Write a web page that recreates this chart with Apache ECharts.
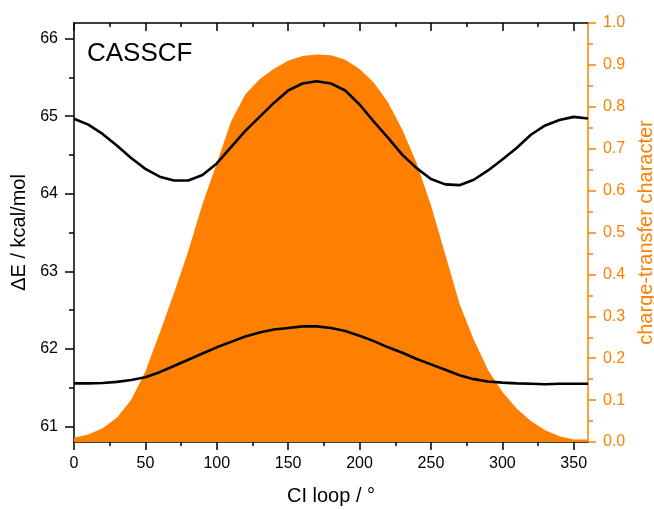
<!DOCTYPE html>
<html><head><meta charset="utf-8">
<script src="https://cdn.jsdelivr.net/npm/echarts@6/dist/echarts.min.js"></script>
<style>html,body{margin:0;padding:0;background:#fff}#c{width:654px;height:510px}</style>
</head><body><div id="c"></div>
<script>
const angles = [0,10,20,30,40,50,60,70,80,90,100,110,120,130,140,150,160,170,180,190,200,210,220,230,240,250,260,270,280,290,300,310,320,330,340,350,360];
const upperE = [64.965,64.89,64.77,64.62,64.46,64.32,64.22,64.17,64.17,64.24,64.39,64.6,64.81,64.99,65.17,65.33,65.42,65.45,65.42,65.33,65.15,64.93,64.72,64.5,64.33,64.19,64.12,64.11,64.18,64.3,64.44,64.59,64.76,64.88,64.95,64.99,64.97];
const lowerE = [61.555,61.555,61.56,61.575,61.6,61.635,61.7,61.78,61.86,61.94,62.02,62.09,62.16,62.21,62.25,62.27,62.29,62.29,62.27,62.23,62.17,62.1,62.02,61.95,61.87,61.8,61.73,61.66,61.61,61.58,61.565,61.555,61.55,61.545,61.55,61.55,61.55];
const ctChar = [0.01,0.018,0.033,0.058,0.1,0.168,0.26,0.355,0.455,0.568,0.665,0.765,0.83,0.866,0.891,0.91,0.921,0.925,0.923,0.912,0.89,0.858,0.81,0.745,0.665,0.565,0.448,0.33,0.244,0.172,0.12,0.08,0.05,0.028,0.014,0.006,0.006];
const xMajorTicks = [0,50,100,150,200,250,300,350];
const xMinorTicks = [25,75,125,175,225,275,325];
const leftMajorTicks = [61,62,63,64,65,66];
const leftMinorTicks = [61.5,62.5,63.5,64.5,65.5];
const titleText = 'CASSCF';

const FONT = '"Liberation Sans", Arial, sans-serif';
const ORANGE = '#FF8000';
const BLACK = '#000';
const chart = echarts.init(document.getElementById('c'), null, {renderer: 'canvas'});
const pair = (xs, ys) => xs.map((x, i) => [x, ys[i]]);

const baseX = {type: 'value', min: 0, max: 360, splitLine: {show: false}};
const option = {
  animation: false,
  backgroundColor: '#fff',
  grid: {left: 74, right: 66, top: 23, bottom: 68, outerBoundsMode: 'none', containLabel: false},
  xAxis: [
    Object.assign({}, baseX, {
      position: 'bottom',
      axisLine: {onZero: false, lineStyle: {color: BLACK, width: 1.5}},
      axisTick: {customValues: xMajorTicks, length: 8, lineStyle: {color: BLACK, width: 1.5}},
      axisLabel: {customValues: xMajorTicks, margin: 14, fontSize: 16, color: BLACK, fontFamily: FONT},
      name: 'CI loop / °', nameLocation: 'middle', nameGap: 44,
      nameTextStyle: {fontSize: 20, color: BLACK, fontFamily: FONT}
    }),
    Object.assign({}, baseX, {
      position: 'bottom',
      axisLine: {show: false, onZero: false},
      axisTick: {customValues: xMinorTicks, length: 4, lineStyle: {color: BLACK, width: 1.5}},
      axisLabel: {show: false}
    }),
    Object.assign({}, baseX, {
      position: 'top',
      axisLine: {onZero: false, lineStyle: {color: BLACK, width: 1.5}},
      axisTick: {inside: true, customValues: xMajorTicks, length: 8, lineStyle: {color: BLACK, width: 1.5}},
      axisLabel: {show: false}
    }),
    Object.assign({}, baseX, {
      position: 'top',
      axisLine: {show: false, onZero: false},
      axisTick: {inside: true, customValues: xMinorTicks, length: 4, lineStyle: {color: BLACK, width: 1.5}},
      axisLabel: {show: false}
    })
  ],
  yAxis: [
    {
      type: 'value', position: 'left', min: 60.8, max: 66.2,
      splitLine: {show: false},
      axisLine: {show: true, onZero: false, lineStyle: {color: BLACK, width: 1.5}},
      axisTick: {customValues: leftMajorTicks, length: 9, lineStyle: {color: BLACK, width: 1.5}},
      axisLabel: {customValues: leftMajorTicks, margin: 16, fontSize: 16, color: BLACK, fontFamily: FONT},
      name: 'ΔE / kcal/mol', nameLocation: 'middle', nameGap: 44,
      nameTextStyle: {fontSize: 20, color: BLACK, fontFamily: FONT}
    },
    {
      type: 'value', position: 'left', min: 60.8, max: 66.2,
      splitLine: {show: false},
      axisLine: {show: false, onZero: false},
      axisTick: {customValues: leftMinorTicks, length: 5, lineStyle: {color: BLACK, width: 1.5}},
      axisLabel: {show: false}
    },
    {
      type: 'value', position: 'right', min: 0, max: 1, interval: 0.1,
      splitLine: {show: false},
      axisLine: {show: true, onZero: false, lineStyle: {color: ORANGE, width: 1.5}},
      axisTick: {length: 8, lineStyle: {color: ORANGE, width: 1.5}},
      minorTick: {show: true, splitNumber: 2, length: 5, lineStyle: {color: ORANGE, width: 1.5}},
      axisLabel: {margin: 15, fontSize: 16, color: ORANGE, fontFamily: FONT, formatter: v => v.toFixed(1)},
      name: 'charge-transfer character', nameLocation: 'middle', nameGap: 45,
      nameTextStyle: {fontSize: 20, color: ORANGE, fontFamily: FONT}
    }
  ],
  graphic: [{
    type: 'text', x: 87, y: 54, z: 100,
    style: {text: titleText, fontSize: 26, fontFamily: FONT, fill: BLACK, verticalAlign: 'middle'}
  }],
  series: [
    {
      type: 'line', xAxisIndex: 0, yAxisIndex: 2, data: pair(angles, ctChar),
      showSymbol: false, symbol: 'none', lineStyle: {width: 0, color: ORANGE},
      itemStyle: {color: ORANGE}, areaStyle: {color: ORANGE, opacity: 1}, z: 1
    },
    {
      type: 'line', xAxisIndex: 0, yAxisIndex: 0, data: pair(angles, upperE),
      showSymbol: false, symbol: 'none', lineStyle: {width: 2.6, color: BLACK}, z: 3
    },
    {
      type: 'line', xAxisIndex: 0, yAxisIndex: 0, data: pair(angles, lowerE),
      showSymbol: false, symbol: 'none', lineStyle: {width: 2.6, color: BLACK}, z: 3
    }
  ]
};
chart.setOption(option);
</script>
</body></html>
